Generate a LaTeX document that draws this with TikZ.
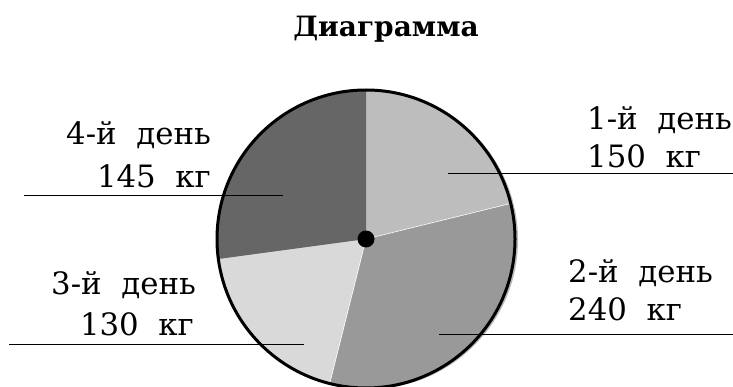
\documentclass[tikz,border=0pt]{standalone}
\usepackage{fontspec}
\setmainfont{DejaVu Serif}
\definecolor{sliceA}{HTML}{BDBDBD}
\definecolor{sliceB}{HTML}{999999}
\definecolor{sliceC}{HTML}{D9D9D9}
\definecolor{sliceD}{HTML}{666666}
\begin{document}
\begin{tikzpicture}[x=1pt,y=1pt,
  lbl/.style={inner sep=0pt,font=\fontsize{30.8}{34}\selectfont},
  leader/.style={line width=1pt,black},
  rim/.style={line width=3pt,black}]
\useasboundingbox (0,0) rectangle (733,386);
\begin{scope}
\clip (0,0) rectangle (733,386);
\coordinate (C) at (366,147);
% shadow
\fill[gray!55] ([xshift=3pt,yshift=-1pt]C) circle[radius=149];
% slices
\fill[sliceA] (C) -- ++(90:149) arc[start angle=90,end angle=13.8,radius=149] -- cycle;
\fill[sliceB] (C) -- ++(13.8:149) arc[start angle=13.8,end angle=-104.1,radius=149] -- cycle;
\fill[sliceC] (C) -- ++(-104.1:149) arc[start angle=-104.1,end angle=-172.3,radius=149] -- cycle;
\fill[sliceD] (C) -- ++(187.7:149) arc[start angle=187.7,end angle=90,radius=149] -- cycle;
\draw[white,line width=0.6pt] (C) -- ++(13.8:149);
\draw[white,line width=0.6pt] (C) -- ++(-104.1:149);
\draw[rim] (C) circle[radius=149];
\end{scope}
\node[circle,fill=black,inner sep=0pt,minimum size=17pt] (dot) at (C) {};
% title
\node[inner sep=0pt,anchor=base,font=\fontsize{28}{31}\selectfont\bfseries] (title) at (386,349) {Диаграмма};
% labels
\node[lbl,anchor=base west] (d1) at (587,256) {1-й~~день};
\node[lbl,anchor=base west] (w1) at (587,218) {150~~кг};
\node[lbl,anchor=base west] (d2) at (568,104) {2-й~~день};
\node[lbl,anchor=base west] (w2) at (568,66) {240~~кг};
\node[lbl,anchor=base east] (d4) at (211,241) {4-й~~день};
\node[lbl,anchor=base east] (w4) at (211,199) {145~~кг};
\node[lbl,anchor=base east] (d3) at (196,92) {3-й~~день};
\node[lbl,anchor=base east] (w3) at (194,51) {130~~кг};
% leader lines
\coordinate (a1) at (448,212); \coordinate (b1) at (733,212);
\coordinate (a2) at (439,52);  \coordinate (b2) at (733,52);
\coordinate (a4) at (283,190.5); \coordinate (b4) at (24,190.5);
\coordinate (a3) at (304,41.5);  \coordinate (b3) at (9,41.5);
\draw[leader] (a1) -- (b1);
\draw[leader] (a2) -- (b2);
\draw[leader] (a4) -- (b4);
\draw[leader] (a3) -- (b3);
\end{tikzpicture}
\end{document}
